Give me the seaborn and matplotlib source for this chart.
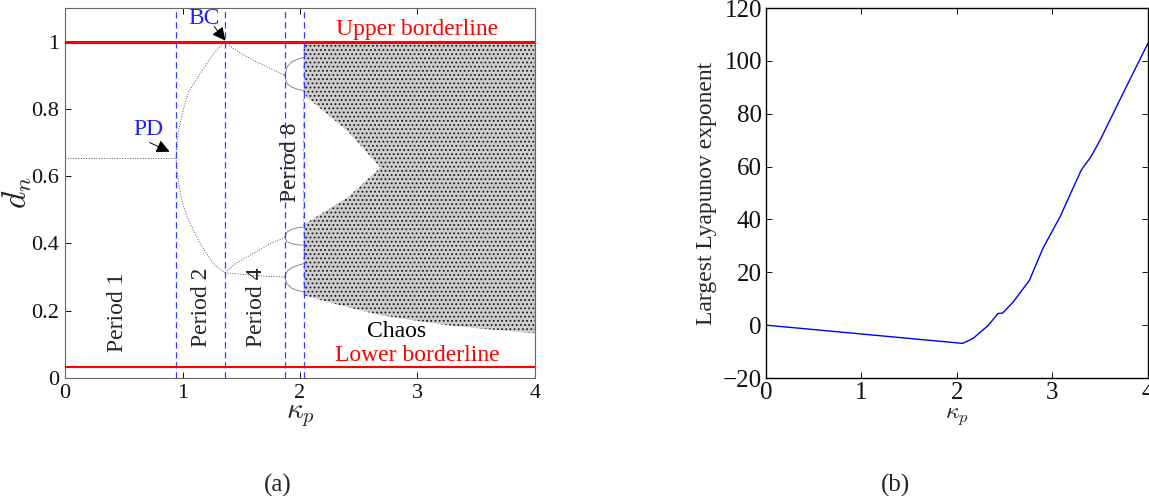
import numpy as np
import seaborn as sns
import matplotlib.pyplot as plt

# ---------------- data ----------------
# period 1
p1_x = [0.0, 0.945]
p1_y = [0.655, 0.655]
# period 2
p2_x = [0.945, 0.955, 0.97, 1.0, 1.05, 1.15, 1.26, 1.36]
p2_up = [0.655, 0.70, 0.74, 0.79, 0.85, 0.905, 0.963, 1.0]
p2_lo = [0.655, 0.61, 0.57, 0.52, 0.47, 0.40, 0.34, 0.313]
# period 4 (after border collision)
p4_x = [1.36, 1.45, 1.6, 1.75, 1.87]
p4_top = [1.0, 0.975, 0.945, 0.92, 0.90]
p4_mid = [0.313, 0.34, 0.37, 0.40, 0.418]
p4_low = [0.313, 0.31, 0.305, 0.302, 0.30]
# period 8
p8_x = [1.87, 1.89, 1.93, 1.98, 2.03]
p8_a = [0.90, 0.925, 0.94, 0.948, 0.953]
p8_b = [0.90, 0.875, 0.865, 0.858, 0.855]
p8_c = [0.418, 0.434, 0.442, 0.447, 0.449]
p8_d = [0.418, 0.405, 0.399, 0.396, 0.395]
p8_e = [0.30, 0.318, 0.328, 0.335, 0.34]
p8_f = [0.30, 0.28, 0.267, 0.26, 0.256]
# chaotic band envelopes
chaos_x = [2.03, 2.3, 2.68, 3.0, 3.25, 3.6, 4.0]
chaos_lo = [0.246, 0.22, 0.187, 0.17, 0.157, 0.145, 0.133]
chaos_hi = [0.995, 0.995, 0.995, 0.995, 0.995, 0.995, 0.995]
# periodic window inside the chaos
win_x = [2.03, 2.057, 2.4, 2.68]
win_hi = [0.85, 0.835, 0.736, 0.627]
win_lo = [0.46, 0.464, 0.538, 0.627]
# boundaries
kappa_lines = [0.945, 1.36, 1.87, 2.03]
upper_border = 1.0
lower_border = 0.034

# largest lyapunov exponent
ly_x = [0.0, 2.06, 2.17, 2.33, 2.43, 2.48, 2.59, 2.76, 2.90, 3.08, 3.30, 3.34, 3.40, 3.50, 3.74, 4.0]
ly_y = [0.0, -6.9, -5.0, 0.0, 4.4, 4.6, 8.8, 17.0, 29.0, 41.0, 58.5, 60.6, 63.5, 70.0, 87.7, 106.6]

# ---------------- style ----------------
sns.set_style('ticks')
plt.rcParams['font.family'] = ['Liberation Serif', 'DejaVu Serif']
plt.rcParams['mathtext.fontset'] = 'cm'
plt.rcParams['hatch.linewidth'] = 0.8

fig = plt.figure(figsize=(11.49, 5.01), dpi=100)
ax1 = fig.add_axes([0.0566, 0.2455, 0.409, 0.7385])
ax2 = fig.add_axes([0.6667, 0.2455, 0.3323, 0.7385])

# ---------------- (a) bifurcation diagram ----------------
branch_kw = dict(color='#555555', lw=0.7, linestyle=':', ax=ax1, legend=False)
sns.lineplot(x=p1_x, y=p1_y, **branch_kw)
for yy in (p2_up, p2_lo):
    sns.lineplot(x=p2_x, y=yy, **branch_kw)
for yy in (p4_top, p4_mid, p4_low):
    sns.lineplot(x=p4_x, y=yy, **branch_kw)
for yy in (p8_a, p8_b, p8_c, p8_d, p8_e, p8_f):
    sns.lineplot(x=p8_x, y=yy, color='#777777', lw=0.6, ax=ax1, legend=False)

ax1.fill_between(chaos_x, chaos_lo, chaos_hi, facecolor='#cdcdcd', edgecolor='#1a1a1a',
                 hatch='....', linewidth=0, zorder=1)
ax1.fill_between(win_x, win_lo, win_hi, facecolor='white', linewidth=0, zorder=1.5)

for k in kappa_lines:
    ax1.axvline(k, color='#3a3aff', lw=0.9, dashes=(5, 3), zorder=3)
ax1.axhline(upper_border, color='red', lw=2.2, zorder=4)
ax1.axhline(lower_border, color='red', lw=1.5, zorder=4)

txt = 17
ax1.text(3.0, 1.037, 'Upper borderline', color='red', fontsize=txt, ha='center', va='center')
ax1.text(3.0, 0.068, 'Lower borderline', color='red', fontsize=txt, ha='center', va='center')
ax1.text(2.82, 0.138, 'Chaos', color='black', fontsize=txt, ha='center', va='center')
ax1.text(0.45, 0.196, 'Period 1', rotation=90, fontsize=txt, ha='center', va='center')
ax1.text(1.165, 0.21, 'Period 2', rotation=90, fontsize=txt, ha='center', va='center')
ax1.text(1.63, 0.21, 'Period 4', rotation=90, fontsize=txt, ha='center', va='center')
ax1.text(1.915, 0.64, 'Period 8', rotation=90, fontsize=txt, ha='center', va='center')

ax1.text(0.71, 0.738, 'PD', color='#2222ee', fontsize=txt, ha='center', va='center')
ax1.annotate('', xy=(0.89, 0.673), xytext=(0.72, 0.70),
             arrowprops=dict(arrowstyle='-|>', color='black', lw=0.7, mutation_scale=20,
                             shrinkA=0, shrinkB=0))
ax1.text(1.18, 1.07, 'BC', color='#2222ee', fontsize=txt, ha='center', va='center')
ax1.annotate('', xy=(1.365, 1.003), xytext=(1.27, 1.045),
             arrowprops=dict(arrowstyle='-|>', color='black', lw=0.7, mutation_scale=20,
                             shrinkA=0, shrinkB=0))

ax1.set_xlim(0, 4)
ax1.set_ylim(0, 1.1)
ax1.set_xticks([0, 1, 2, 3, 4])
ax1.set_yticks([0, 0.2, 0.4, 0.6, 0.8, 1.0])
ax1.set_yticklabels(['0', '0.2', '0.4', '0.6', '0.8', '1'])
ax1.set_xlabel(r'$\kappa_p$', fontsize=21, labelpad=0)
ax1.set_ylabel(r'$d_n$', fontsize=24, labelpad=-2)
for sp in ax1.spines.values():
    sp.set_color('#666666')
    sp.set_linewidth(0.8)

# ---------------- (b) lyapunov exponent ----------------
sns.lineplot(x=ly_x, y=ly_y, color='#0000ee', lw=1.0, ax=ax2, legend=False)
ax2.set_xlim(0, 4)
ax2.set_ylim(-20, 120)
ax2.set_xticks([0, 1, 2, 3, 4])
ax2.set_yticks(range(-20, 121, 20))
ax2.set_yticklabels(['\u221220'] + [str(v) for v in range(0, 121, 20)])
ax2.set_xlabel(r'$\kappa_p$', fontsize=17, labelpad=1)
ax2.set_ylabel('Largest Lyapunov exponent', fontsize=17, labelpad=4)
for sp in ax2.spines.values():
    sp.set_color('black')
    sp.set_linewidth(1.0)

for ax in (ax1, ax2):
    ax.tick_params(direction='in', top=True, right=True, length=4, width=0.7,
                   pad=4, colors='#111111')
ax1.tick_params(labelsize=16)
ax2.tick_params(labelsize=18, pad=3)

fig.text(0.242, 0.032, '(a)', fontsize=18, ha='center', va='center')
fig.text(0.779, 0.032, '(b)', fontsize=18, ha='center', va='center')

fig.savefig('out.png', dpi=100)
